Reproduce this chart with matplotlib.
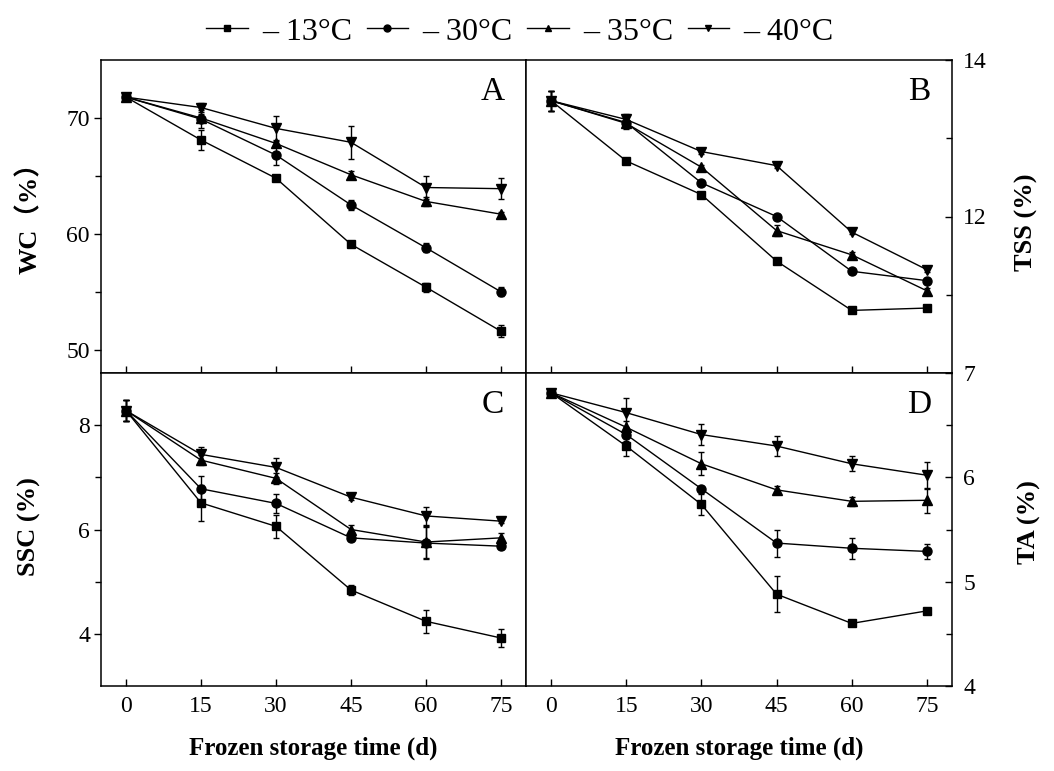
import matplotlib
matplotlib.use("Agg")
import matplotlib.pyplot as plt
from matplotlib.lines import Line2D
from matplotlib.ticker import FixedLocator

plt.rcParams["font.family"] = ["Liberation Serif", "Noto Sans CJK SC", "DejaVu Sans"]

# ----------------------------------------------------------------------
#   Data
# ----------------------------------------------------------------------
days = [0, 15, 30, 45, 60, 75]
temp_labels = ["– 13°C", "– 30°C", "– 35°C", "– 40°C"]
markers = ["s", "o", "^", "v"]
marker_sizes = [6, 6.5, 7, 7]

# A: water content (WC, %)
wc_13 = [71.8, 68.1, 64.8, 59.1, 55.4, 51.6]
wc_30 = [71.8, 69.9, 66.8, 62.5, 58.8, 55.0]
wc_35 = [71.8, 70.0, 67.8, 65.1, 62.8, 61.7]
wc_40 = [71.8, 70.9, 69.1, 67.9, 64.0, 63.9]
wc_13_err = [0.3, 0.9, 0.2, 0.2, 0.4, 0.5]
wc_30_err = [0.3, 0.8, 0.9, 0.4, 0.4, 0.4]
wc_35_err = [0.3, 0.3, 0.3, 0.3, 0.4, 0.2]
wc_40_err = [0.3, 0.4, 1.1, 1.4, 1.0, 0.9]

# B: total soluble solids (TSS, %)
tss_13 = [13.48, 12.71, 12.28, 11.43, 10.80, 10.83]
tss_30 = [13.48, 13.20, 12.43, 12.00, 11.30, 11.18]
tss_35 = [13.48, 13.19, 12.63, 11.82, 11.51, 11.05]
tss_40 = [13.48, 13.24, 12.83, 12.65, 11.80, 11.32]
tss_13_err = [0.13, 0.03, 0.03, 0.03, 0.03, 0.03]
tss_30_err = [0.13, 0.07, 0.03, 0.03, 0.03, 0.03]
tss_35_err = [0.13, 0.07, 0.03, 0.07, 0.03, 0.03]
tss_40_err = [0.13, 0.07, 0.03, 0.03, 0.03, 0.03]

# C: soluble sugar content (SSC, %)
ssc_13 = [8.28, 6.51, 6.06, 4.84, 4.24, 3.92]
ssc_30 = [8.28, 6.78, 6.50, 5.84, 5.74, 5.68]
ssc_35 = [8.28, 7.33, 6.98, 6.00, 5.76, 5.84]
ssc_40 = [8.28, 7.44, 7.19, 6.62, 6.26, 6.16]
ssc_13_err = [0.20, 0.35, 0.22, 0.10, 0.22, 0.18]
ssc_30_err = [0.20, 0.25, 0.19, 0.06, 0.30, 0.05]
ssc_35_err = [0.20, 0.10, 0.10, 0.08, 0.30, 0.10]
ssc_40_err = [0.20, 0.15, 0.18, 0.06, 0.17, 0.04]

# D: titratable acidity (TA, %)
ta_13 = [6.81, 6.30, 5.74, 4.88, 4.60, 4.72]
ta_30 = [6.81, 6.41, 5.89, 5.37, 5.32, 5.29]
ta_35 = [6.81, 6.48, 6.13, 5.88, 5.77, 5.78]
ta_40 = [6.81, 6.62, 6.41, 6.30, 6.13, 6.02]
ta_13_err = [0.03, 0.10, 0.10, 0.17, 0.02, 0.03]
ta_30_err = [0.03, 0.06, 0.03, 0.13, 0.10, 0.07]
ta_35_err = [0.03, 0.06, 0.11, 0.04, 0.04, 0.12]
ta_40_err = [0.03, 0.14, 0.10, 0.10, 0.07, 0.13]


# ----------------------------------------------------------------------
#   Draws the four temperature series into one panel
# ----------------------------------------------------------------------
def draw_panel(ax, series, errors, letter):
    for values, err, mk, ms in zip(series, errors, markers, marker_sizes):
        ax.errorbar(days, values, yerr=err, color="black", marker=mk,
                    markersize=ms, linewidth=1.0, elinewidth=1.0,
                    capsize=2.5, capthick=1.0)

    ax.set_xlim(-5, 80)
    ax.set_xticks(days)
    ax.tick_params(axis="x", direction="in", length=5, width=1, labelsize=17, pad=7)
    ax.text(0.922, 0.9, letter, transform=ax.transAxes, fontsize=24,
            ha="center", va="center")
    for spine in ax.spines.values():
        spine.set_linewidth(1.1)


fig = plt.figure(figsize=(10.54, 7.71), dpi=100)

left, mid, right = 101 / 1054, 526 / 1054, 952 / 1054
top, middle, bottom = 1 - 60 / 771, 1 - 373 / 771, 1 - 686 / 771
w1, w2 = mid - left, right - mid
h1, h2 = top - middle, middle - bottom

ax_a = fig.add_axes([left, middle, w1, h1])
ax_b = fig.add_axes([mid, middle, w2, h1])
ax_c = fig.add_axes([left, bottom, w1, h2])
ax_d = fig.add_axes([mid, bottom, w2, h2])

draw_panel(ax_a, [wc_13, wc_30, wc_35, wc_40],
           [wc_13_err, wc_30_err, wc_35_err, wc_40_err], "A")
draw_panel(ax_b, [tss_13, tss_30, tss_35, tss_40],
           [tss_13_err, tss_30_err, tss_35_err, tss_40_err], "B")
draw_panel(ax_c, [ssc_13, ssc_30, ssc_35, ssc_40],
           [ssc_13_err, ssc_30_err, ssc_35_err, ssc_40_err], "C")
draw_panel(ax_d, [ta_13, ta_30, ta_35, ta_40],
           [ta_13_err, ta_30_err, ta_35_err, ta_40_err], "D")

# top panels: no x tick labels
ax_a.tick_params(axis="x", labelbottom=False)
ax_b.tick_params(axis="x", labelbottom=False)

# left axes
ax_a.set_ylim(48, 75)
ax_a.set_yticks([50, 60, 70])
ax_a.yaxis.set_minor_locator(FixedLocator([55, 65]))
ax_c.set_ylim(3, 9)
ax_c.set_yticks([4, 6, 8])
ax_c.yaxis.set_minor_locator(FixedLocator([5, 7]))
for ax in (ax_a, ax_c):
    ax.tick_params(axis="y", which="major", direction="out", length=5, width=1,
                   labelsize=17, pad=3)
    ax.tick_params(axis="y", which="minor", direction="out", length=4, width=1)

# right axes
ax_b.set_ylim(10, 14)
ax_b.set_yticks([10, 12, 14])
ax_b.set_yticklabels(["", "12", "14"])
ax_b.yaxis.set_minor_locator(FixedLocator([11, 13]))
ax_d.set_ylim(4, 7)
ax_d.set_yticks([4, 5, 6, 7])
ax_d.yaxis.set_minor_locator(FixedLocator([4.5, 5.5, 6.5]))
for ax in (ax_b, ax_d):
    ax.yaxis.tick_right()
    ax.tick_params(axis="y", which="major", direction="in", length=5, width=1,
                   labelsize=17, pad=8)
    ax.tick_params(axis="y", which="minor", direction="in", length=4, width=1)

# axis titles
ax_c.set_xlabel("Frozen storage time (d)", fontsize=18, fontweight="bold", labelpad=14)
ax_d.set_xlabel("Frozen storage time (d)", fontsize=18, fontweight="bold", labelpad=14)
fig.text(29 / 1054, 1 - 212 / 771, "WC（%）", rotation=90, fontsize=19,
         fontweight="bold", ha="center", va="center")
fig.text(29 / 1054, 1 - 527 / 771, "SSC (%)", rotation=90, fontsize=19,
         fontweight="bold", ha="center", va="center")
fig.text(1026 / 1054, 1 - 222 / 771, "TSS (%)", rotation=90, fontsize=19,
         fontweight="bold", ha="center", va="center")
fig.text(1029 / 1054, 1 - 522 / 771, "TA (%)", rotation=90, fontsize=19,
         fontweight="bold", ha="center", va="center")

# legend: plain line + marker handles
handles = []
for mk in markers:
    handles.append(Line2D([], [], color="black", marker=mk, markersize=5, linewidth=1.0))

fig.legend(handles, temp_labels, loc="center", bbox_to_anchor=(520 / 1054, 1 - 32 / 771),
           ncol=4, frameon=False, fontsize=23, handlelength=1.3,
           handletextpad=0.45, columnspacing=0.45, borderaxespad=0)

fig.savefig("out.png", dpi=100)
plt.close(fig)
